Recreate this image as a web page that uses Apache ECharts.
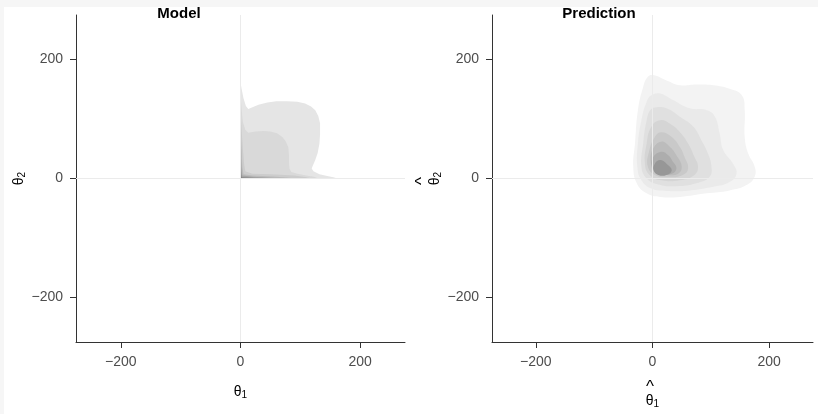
<!DOCTYPE html>
<html>
<head>
<meta charset="utf-8">
<script src="https://cdn.jsdelivr.net/npm/echarts@6/dist/echarts.min.js"></script>
<style>
html,body{margin:0;padding:0;background:#fff;}
#chart{width:818px;height:414px;}
</style>
</head>
<body>
<div id="chart"></div>
<script>
// ---- data ----
const AXIS_MIN = -275;
const AXIS_MAX = 275;
const TICK_VALUES = [-200, 0, 200];
const PANEL_TITLES = ['Model', 'Prediction'];

// Model panel: filled density levels (outer -> inner), [theta1, theta2]
const MODEL_LEVEL_1 = [[0,0],[0,161],[2,150],[5,135],[9,122],[13,117],[20,120],[30,124],[45,128],[60,130],[78,130],[95,129],[108,126],[118,121],[125,115],[130,105],[133,93],[133,75],[132,59],[129,43],[125,31],[121,22],[119,17],[122,12],[132,7],[145,4],[155,2],[162,0]];
const MODEL_LEVEL_2 = [[0,0],[0,140],[2,115],[4,95],[8,82],[13,77],[25,79],[38,80],[50,79],[61,76],[70,70],[76,62],[80,52],[81,40],[81,26],[82,16],[85,11],[95,8],[110,5],[123,3],[130,0]];
const MODEL_LEVEL_3 = [[0,0],[0,110],[2,80],[4,50],[6,25],[8,12],[20,8],[50,7],[90,5],[110,2],[118,0]];
const MODEL_LEVEL_4 = [[0,0],[0,80],[2,45],[3,20],[5,7],[20,5],[60,3],[95,0]];
const MODEL_LEVEL_5 = [[0,0],[0,50],[1.5,20],[3,5],[20,3],[70,0]];
const MODEL_LEVEL_6 = [[0,0],[0,25],[1,8],[2,2],[10,1.5],[40,0]];
const MODEL_LEVEL_7 = [[0,0],[0,10],[1,1],[10,0]];
const MODEL_LEVELS = [MODEL_LEVEL_1, MODEL_LEVEL_2, MODEL_LEVEL_3, MODEL_LEVEL_4, MODEL_LEVEL_5, MODEL_LEVEL_6, MODEL_LEVEL_7];

// Prediction panel: filled density levels (outer -> inner), [theta1_hat, theta2_hat]
const PRED_LEVEL_1 = [[1,174],[24,165],[47,157],[75,158],[104,157],[132,151],[153,140],[158,115],[158,70],[164,42],[175,20],[175,3],[161,-11],[132,-20],[93,-25],[47,-31],[13,-31],[-10,-25],[-27,-8],[-33,20],[-30,59],[-25,115],[-16,154],[-8,171]];
const PRED_LEVEL_2 = [[-2,140],[13,143],[35,132],[64,118],[93,115],[107,104],[115,76],[121,48],[138,25],[144,8],[132,-6],[104,-14],[64,-20],[24,-21],[-2,-17],[-19,-3],[-26,20],[-25,59],[-19,98],[-10,129]];
const PRED_LEVEL_3 = [[7,120],[24,118],[47,104],[70,87],[84,64],[95,42],[101,20],[98,3],[75,-8],[41,-13],[10,-10],[-10,0],[-19,20],[-16,59],[-10,98],[-3,116]];
const PRED_LEVEL_4 = [[13,98],[30,92],[47,78],[61,59],[72,36],[78,20],[72,6],[47,-3],[15,-3],[-5,6],[-13,25],[-10,59],[-2,87]];
const PRED_LEVEL_5 = [[15,78],[33,70],[47,53],[55,36],[61,17],[52,6],[27,2],[4,6],[-8,20],[-6,45],[4,70]];
const PRED_LEVEL_6 = [[15,62],[30,53],[41,39],[50,20],[44,8],[24,6],[4,11],[-3,28],[1,50]];
const PRED_LEVEL_7 = [[15,45],[27,39],[35,28],[41,17],[33,8],[15,8],[1,17],[0,34]];
const PRED_LEVEL_8 = [[13,31],[24,25],[33,14],[24,6],[10,6],[2,14],[4,25]];
const PRED_LEVELS = [PRED_LEVEL_1, PRED_LEVEL_2, PRED_LEVEL_3, PRED_LEVEL_4, PRED_LEVEL_5, PRED_LEVEL_6, PRED_LEVEL_7, PRED_LEVEL_8];

// ---- styles ----
const MODEL_FILLS = ['#e5e5e5','#d9d9d9','#cccccc','#bbbbbb','#a4a4a4','#858585','#585858'];
const PRED_FILLS = ['#f3f3f3','#eaeaea','#e0e0e0','#d5d5d5','#c9c9c9','#bcbcbc','#adadad','#979797'];
const FONT = '"Liberation Sans", Arial, Helvetica, sans-serif';

const fmt = v => (v < 0 ? '\u2212' + (-v) : String(v));

function makeAxis(gridIndex, type, nameText, nameGap, moveOverlap) {
  return {
    type: 'value',
    gridIndex: gridIndex,
    min: AXIS_MIN,
    max: AXIS_MAX,
    name: nameText,
    nameLocation: 'middle',
    nameGap: nameGap,
    nameMoveOverlap: moveOverlap,
    nameTextStyle: {
      color: '#000',
      fontFamily: FONT,
      rich: {
        h: {fontSize: 17, fontFamily: FONT, color: '#000', lineHeight: 11, padding: [0, 5, 0, 0]},
        t: {fontSize: 14, fontFamily: FONT, color: '#000', lineHeight: 16},
        s: {fontSize: 10, fontFamily: FONT, color: '#000', verticalAlign: 'bottom', lineHeight: 10, padding: [6, 0, 0, 0]}
      }
    },
    axisLine: {show: true, onZero: false, lineStyle: {color: '#333', width: 1}},
    axisTick: {show: true, length: 6, lineStyle: {color: '#333', width: 1}, customValues: TICK_VALUES},
    axisLabel: {
      show: true, color: '#4d4d4d', fontSize: 14, fontFamily: FONT,
      margin: 13,
      customValues: TICK_VALUES,
      formatter: fmt
    },
    splitLine: {show: false}
  };
}

function contourSeries(idx, levels, fills, smooth) {
  return {
    type: 'custom',
    xAxisIndex: idx,
    yAxisIndex: idx,
    z: 3,
    silent: true,
    clip: true,
    data: levels.map((lv, i) => [i]),
    renderItem: function (params, api) {
      const lv = levels[params.dataIndex];
      const pts = lv.map(p => api.coord(p));
      return {
        type: 'polygon',
        shape: {points: pts, smooth: smooth},
        style: {fill: fills[params.dataIndex], stroke: null}
      };
    }
  };
}

function zeroLines(idx) {
  return {
    type: 'line',
    xAxisIndex: idx,
    yAxisIndex: idx,
    data: [],
    z: 1,
    silent: true,
    markLine: {
      silent: true,
      symbol: ['none', 'none'],
      label: {show: false},
      lineStyle: {color: '#ebebeb', width: 1, type: 'solid'},
      animation: false,
      data: [{xAxis: 0}, {yAxis: 0}]
    }
  };
}

const chart = echarts.init(document.getElementById('chart'), null, {renderer: 'canvas'});
chart.setOption({
  animation: false,
  backgroundColor: '#ffffff',
  graphic: [
    {type: 'rect', shape: {x: 0, y: 0, width: 818, height: 7}, style: {fill: '#f6f6f6'}, z: 0, silent: true},
    {type: 'rect', shape: {x: 0, y: 0, width: 4, height: 414}, style: {fill: '#f6f6f6'}, z: 0, silent: true},
    {type: 'text', x: 179, y: 14, style: {text: PANEL_TITLES[0], font: 'bold 15px ' + FONT, fill: '#000', align: 'center', verticalAlign: 'middle'}, z: 10},
    {type: 'text', x: 599, y: 14, style: {text: PANEL_TITLES[1], font: 'bold 15px ' + FONT, fill: '#000', align: 'center', verticalAlign: 'middle'}, z: 10}
  ],
  grid: [
    {left: 76, top: 15, width: 329, height: 327, containLabel: false},
    {left: 492, top: 15, width: 321, height: 327, containLabel: false}
  ],
  xAxis: [
    makeAxis(0, 'x', '{t|θ}{s|1}', 42, true),
    makeAxis(1, 'x', '{h|^}\n{t|θ}{s|1}', 40, true)
  ],
  yAxis: [
    makeAxis(0, 'y', '{t|θ}{s|2}', 49, false),
    makeAxis(1, 'y', '{h|^}\n{t|θ}{s|2}', 45, true)
  ],
  series: [
    zeroLines(0),
    zeroLines(1),
    contourSeries(0, MODEL_LEVELS, MODEL_FILLS, 0),
    contourSeries(1, PRED_LEVELS, PRED_FILLS, 0.45)
  ]
});
</script>
</body>
</html>
